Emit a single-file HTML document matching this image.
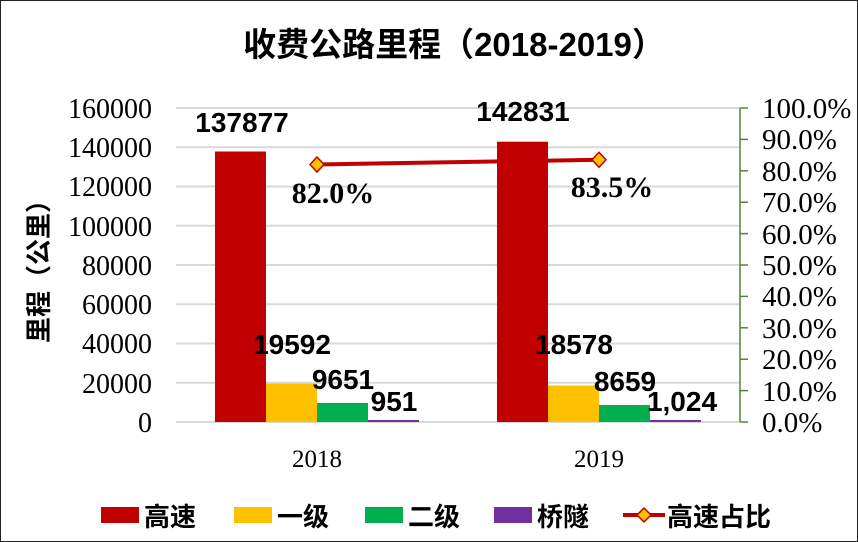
<!DOCTYPE html>
<html><head><meta charset="utf-8"><style>body{margin:0}svg{display:block}</style></head><body>
<svg width="858" height="542" xmlns="http://www.w3.org/2000/svg">
<rect x="0.5" y="0.5" width="857" height="541" fill="#fff" stroke="#222" stroke-width="1"/>
<text x="454" y="56" text-anchor="middle" font-family="Liberation Sans,'Noto Sans CJK SC',sans-serif" font-size="33" font-weight="bold">收费公路里程（2018-2019）</text>
<g stroke="#d9d9d9" stroke-width="2">
<line x1="176" x2="740" y1="108" y2="108"/><line x1="176" x2="740" y1="147.25" y2="147.25"/><line x1="176" x2="740" y1="186.5" y2="186.5"/><line x1="176" x2="740" y1="225.75" y2="225.75"/><line x1="176" x2="740" y1="265" y2="265"/><line x1="176" x2="740" y1="304.25" y2="304.25"/><line x1="176" x2="740" y1="343.5" y2="343.5"/><line x1="176" x2="740" y1="382.75" y2="382.75"/><line x1="176" x2="740" y1="422" y2="422"/>
</g>
<g font-family="Liberation Serif,serif" font-size="28" text-anchor="end">
<text x="152" y="118">160000</text><text x="152" y="157">140000</text><text x="152" y="196">120000</text><text x="152" y="236">100000</text><text x="152" y="275">80000</text><text x="152" y="314">60000</text><text x="152" y="353">40000</text><text x="152" y="393">20000</text><text x="152" y="432">0</text>
</g>
<g stroke="#548235" stroke-width="1.5"><line x1="740" x2="740" y1="108" y2="422"/>
<line x1="740" x2="748" y1="108" y2="108"/><line x1="740" x2="748" y1="139.4" y2="139.4"/><line x1="740" x2="748" y1="170.8" y2="170.8"/><line x1="740" x2="748" y1="202.2" y2="202.2"/><line x1="740" x2="748" y1="233.6" y2="233.6"/><line x1="740" x2="748" y1="265" y2="265"/><line x1="740" x2="748" y1="296.4" y2="296.4"/><line x1="740" x2="748" y1="327.8" y2="327.8"/><line x1="740" x2="748" y1="359.2" y2="359.2"/><line x1="740" x2="748" y1="390.6" y2="390.6"/><line x1="740" x2="748" y1="422" y2="422"/></g>
<g font-family="Liberation Serif,serif" font-size="29">
<text x="762" y="118">100.0%</text><text x="762" y="149">90.0%</text><text x="762" y="181">80.0%</text><text x="762" y="212">70.0%</text><text x="762" y="244">60.0%</text><text x="762" y="275">50.0%</text><text x="762" y="306">40.0%</text><text x="762" y="338">30.0%</text><text x="762" y="369">20.0%</text><text x="762" y="401">10.0%</text><text x="762" y="432">0.0%</text>
</g>
<text transform="translate(48,265) rotate(-90)" text-anchor="middle" font-family="Liberation Sans,'Noto Sans CJK SC',sans-serif" font-size="26" font-weight="bold">里程（公里）</text>
<rect x="215" y="151.5" width="51" height="270.5" fill="#c00000"/>
<rect x="266" y="383.6" width="51" height="38.4" fill="#ffc000"/>
<rect x="317" y="403" width="51" height="19" fill="#00b050"/>
<rect x="368" y="420" width="51" height="2" fill="#7030a0"/>
<rect x="497" y="141.7" width="51" height="280.3" fill="#c00000"/>
<rect x="548" y="385.5" width="51" height="36.5" fill="#ffc000"/>
<rect x="599" y="405" width="51" height="17" fill="#00b050"/>
<rect x="650" y="420" width="51" height="2" fill="#7030a0"/>
<line x1="317" y1="164.5" x2="599" y2="159.8" stroke="#c00000" stroke-width="4"/>
<g fill="#ffc000" stroke="#c00000" stroke-width="1.5"><polygon points="317,157 324,164.5 317,172 310,164.5"/><polygon points="599,152.3 606,159.8 599,167.3 592,159.8"/></g>
<g font-family="Liberation Sans,'Noto Sans CJK SC',sans-serif" font-size="28" font-weight="bold" text-anchor="middle">
<text x="242" y="132">137877</text><text x="523" y="121">142831</text>
<text x="292" y="354">19592</text><text x="574" y="354">18578</text>
<text x="343" y="389">9651</text><text x="625" y="391">8659</text>
<text x="394" y="411">951</text><text x="682" y="411">1,024</text>
</g>
<g font-family="Liberation Serif,serif" font-size="30" font-weight="bold" text-anchor="middle">
<text x="333" y="203">82.0%</text><text x="612" y="197">83.5%</text>
</g>
<g font-family="Liberation Serif,serif" font-size="25" text-anchor="middle">
<text x="317" y="467">2018</text><text x="599" y="467">2019</text>
</g>
<g font-family="Liberation Sans,'Noto Sans CJK SC',sans-serif" font-size="26" font-weight="bold">
<rect x="101" y="507" width="38" height="16" fill="#c00000"/><text x="144" y="526">高速</text>
<rect x="234" y="507" width="38" height="16" fill="#ffc000"/><text x="277" y="526">一级</text>
<rect x="365" y="507" width="38" height="16" fill="#00b050"/><text x="408" y="526">二级</text>
<rect x="494" y="507" width="38" height="16" fill="#7030a0"/><text x="537" y="526">桥隧</text>
<line x1="623" y1="515" x2="665" y2="515" stroke="#c00000" stroke-width="4"/>
<polygon points="644,508 651,515 644,522 637,515" fill="#ffc000" stroke="#c00000" stroke-width="1.5"/>
<text x="667" y="526">高速占比</text>
</g>
</svg>
</body></html>
